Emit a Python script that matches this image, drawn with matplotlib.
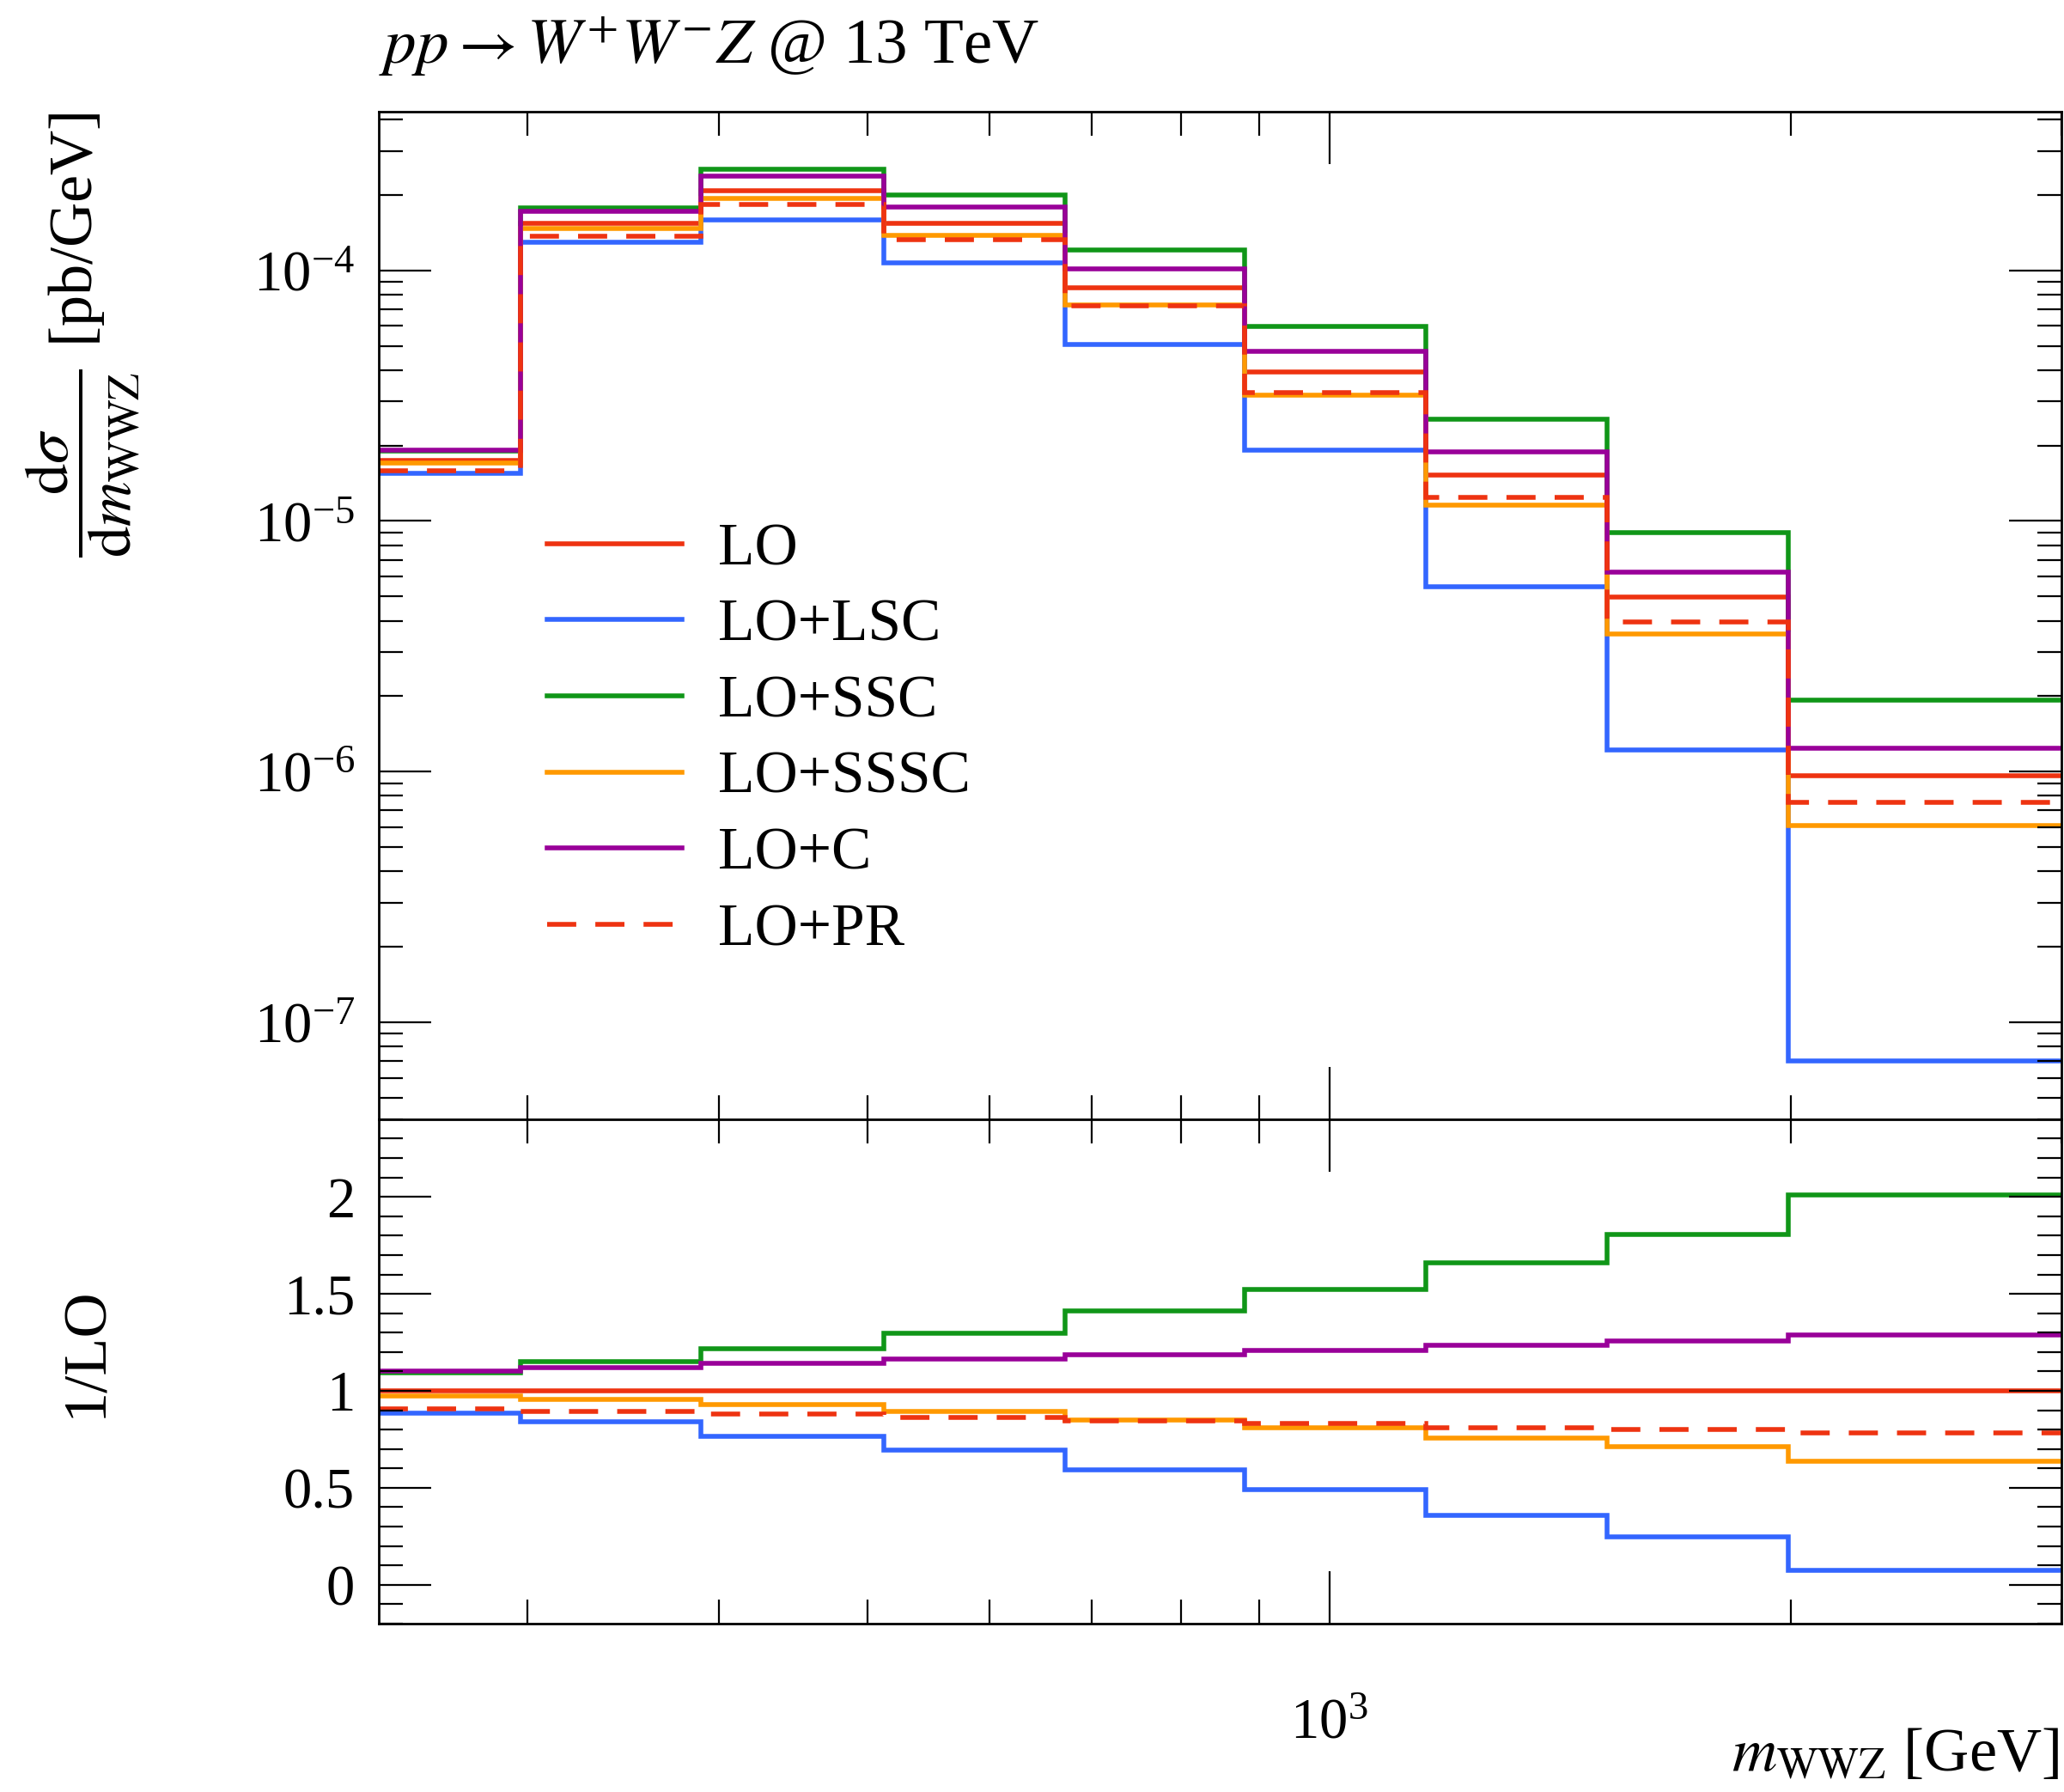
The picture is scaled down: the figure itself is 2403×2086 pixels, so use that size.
import numpy as np
import matplotlib
matplotlib.use('Agg')
import matplotlib.pyplot as plt
from matplotlib.ticker import LogLocator, NullFormatter, MultipleLocator, FuncFormatter

plt.rcParams['font.family'] = ['Liberation Serif', 'DejaVu Serif']
plt.rcParams['mathtext.fontset'] = 'stix'

# bin edges of m_WWZ [GeV]
edges = [240, 297, 389, 512, 672, 880, 1156, 1516, 1991, 3000]

# d sigma / d m_WWZ [pb/GeV]
lo = [1.745e-5, 1.54e-4, 2.08e-4, 1.54e-4, 8.55e-5, 3.93e-5, 1.53e-5, 4.97e-6, 9.6e-7]
lo_lsc = [1.545e-5, 1.294e-4, 1.59e-4, 1.068e-4, 5.07e-5, 1.924e-5, 5.48e-6, 1.222e-6, 7.0e-8]
lo_ssc = [1.905e-5, 1.775e-4, 2.534e-4, 2.0e-4, 1.206e-4, 5.976e-5, 2.54e-5, 8.97e-6, 1.93e-6]
lo_sssc = [1.70e-5, 1.472e-4, 1.931e-4, 1.377e-4, 7.27e-5, 3.18e-5, 1.154e-5, 3.536e-6, 6.1e-7]
lo_c = [1.92e-5, 1.723e-4, 2.378e-4, 1.789e-4, 1.015e-4, 4.74e-5, 1.886e-5, 6.25e-6, 1.236e-6]
lo_pr = [1.583e-5, 1.373e-4, 1.827e-4, 1.327e-4, 7.22e-5, 3.26e-5, 1.238e-5, 3.97e-6, 7.52e-7]

labels = ['LO', 'LO+LSC', 'LO+SSC', 'LO+SSSC', 'LO+C', 'LO+PR']
colors = ['#EE3311', '#3366FF', '#109618', '#FF9900', '#990099', '#EE3311']
styles = ['-', '-', '-', '-', '-', (0, (6.1, 4.0))]
series = [lo, lo_lsc, lo_ssc, lo_sssc, lo_c, lo_pr]

fig = plt.figure(figsize=(2403 / 200, 2086 / 200), dpi=200)
ax = fig.add_axes([0.1835, 0.3754, 0.8152, 0.5623])
rax = fig.add_axes([0.1835, 0.0940, 0.8152, 0.2814], sharex=ax)

for vals, lab, col, ls in zip(series, labels, colors, styles):
    ax.stairs(vals, edges, baseline=None, color=col, lw=2.0, ls=ls, label=lab)
    rax.stairs(np.array(vals) / np.array(lo), edges, baseline=None, color=col, lw=2.0, ls=ls)

ax.set_xscale('log')
ax.set_yscale('log')
ax.set_xlim(240, 3000)
ax.set_ylim(4.1e-8, 4.3e-4)
rax.set_ylim(-0.2, 2.4)

ax.xaxis.set_major_locator(LogLocator(base=10))
ax.xaxis.set_minor_locator(LogLocator(base=10, subs=np.arange(2, 10)))
ax.xaxis.set_minor_formatter(NullFormatter())
ax.yaxis.set_minor_locator(LogLocator(base=10, subs=np.arange(2, 10), numticks=20))
ax.yaxis.set_minor_formatter(NullFormatter())
rax.yaxis.set_major_locator(MultipleLocator(0.5))
rax.yaxis.set_minor_locator(MultipleLocator(0.1))
rax.yaxis.set_major_formatter(FuncFormatter(lambda v, p: '%g' % v))

for a in (ax, rax):
    a.tick_params(which='both', direction='in', top=True, right=True, width=0.8, labelsize=24)
    a.tick_params(which='major', length=22)
    a.tick_params(which='minor', length=10)
    a.tick_params(axis='y', pad=10)
    for s in a.spines.values():
        s.set_linewidth(1.0)
ax.tick_params(labelbottom=False)
rax.tick_params(axis='x', pad=31)

ax.legend(loc='upper left', bbox_to_anchor=(0.100, 0.592), frameon=False, fontsize=25,
          handlelength=2.27, handletextpad=0.6, labelspacing=0.36, borderaxespad=0, borderpad=0)

fig.text(0.1835, 0.9645, r'$pp \rightarrow W^{+}W^{-}Z$ @ 13 TeV', fontsize=27, ha='left', va='baseline')
fig.text(0.040, 1 - 130 / 2086, r'$\dfrac{\mathrm{d}\sigma}{\mathrm{d}m_{\mathrm{WWZ}}}$ [pb/GeV]',
         fontsize=26, rotation=90, ha='center', va='top')
fig.text(0.042, 0.2455, '1/LO', fontsize=26, rotation=90, ha='center', va='center')
fig.text(0.9975, 1 - 2061 / 2086, r'$m_{\mathrm{WWZ}}$ [GeV]', fontsize=26, ha='right', va='baseline')

fig.savefig('out.png', dpi=200)
